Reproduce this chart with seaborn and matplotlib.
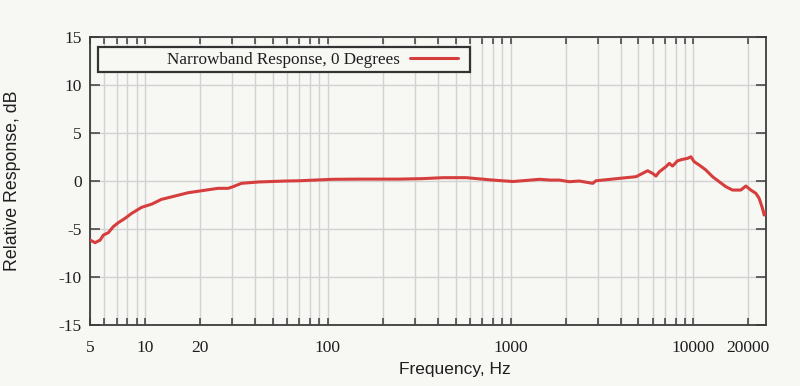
import numpy as np
import pandas as pd
import matplotlib
matplotlib.use("Agg")
import matplotlib.pyplot as plt
import seaborn as sns
from matplotlib.patches import Rectangle
from matplotlib.ticker import FixedLocator, NullFormatter

# values
freq_hz = [5, 5.33, 5.68, 5.92, 6.3, 6.7, 7.14, 7.77, 8.45, 9.58, 10.9, 12.3, 14.6,
           17.2, 20.4, 25.1, 28.5, 30.3, 33.7, 41.6, 58.2, 70, 106, 150, 247, 330,
           427, 572, 700, 800, 1030, 1200, 1440, 1650, 1850, 2100, 2380, 2815, 2935,
           3475, 4290, 4860, 5280, 5630, 5990, 6250, 6520, 7080, 7390, 7700, 8200,
           8740, 9300, 9700, 10120, 10770, 11720, 12750, 13860, 15080, 16400, 18200,
           19400, 20650, 22000, 22930, 23920, 24430, 24950]
response_db = [-6.15, -6.42, -6.15, -5.63, -5.38, -4.76, -4.34, -3.89, -3.37, -2.74,
               -2.4, -1.91, -1.56, -1.22, -1.01, -0.76, -0.76, -0.59, -0.24, -0.1, 0.0,
               0.03, 0.18, 0.2, 0.2, 0.25, 0.35, 0.35, 0.2, 0.1, -0.05, 0.05, 0.18, 0.1,
               0.1, -0.07, 0.0, -0.24, 0.03, 0.17, 0.35, 0.45, 0.8, 1.07, 0.8, 0.52,
               0.97, 1.49, 1.84, 1.56, 2.11, 2.26, 2.36, 2.53, 2.01, 1.67, 1.15, 0.45,
               -0.07, -0.59, -0.94, -0.94, -0.52, -0.94, -1.28, -1.8, -2.85, -3.54, -3.2]
labeled_ticks = [5, 10, 20, 100, 1000, 10000, 20000]
legend_label = "Narrowband Response, 0 Degrees"

df = pd.DataFrame({"freq": freq_hz, "db": response_db})

sns.set_theme(style="ticks")
plt.rcParams["font.family"] = ["Liberation Serif", "DejaVu Serif"]
plt.rcParams["axes.unicode_minus"] = False

paper = "#f7f7f4"
fig = plt.figure(figsize=(8, 3.86), dpi=100, facecolor=paper)
ax = fig.add_axes([0.1125, 0.158, 0.845, 0.746])
ax.set_facecolor(paper)

sns.lineplot(data=df, x="freq", y="db", ax=ax, color="#d63e3e", lw=2.2,
             label=legend_label, zorder=3)

ax.set_xscale("log")
ax.set_xlim(5, 25000)
ax.set_ylim(-15, 15)

all_ticks = [m * 10 ** e for e in range(0, 5) for m in range(1, 10)]
all_ticks = [t for t in all_ticks if 5 <= t <= 25000]
minor = [t for t in all_ticks if t not in labeled_ticks]
ax.xaxis.set_major_locator(FixedLocator(labeled_ticks))
ax.set_xticklabels([str(t) for t in labeled_ticks])
ax.xaxis.set_minor_locator(FixedLocator(minor))
ax.xaxis.set_minor_formatter(NullFormatter())
ax.set_yticks([-15, -10, -5, 0, 5, 10, 15])

ax.grid(True, which="both", axis="x", color="#d2d2d2", lw=1.0, zorder=0)
ax.grid(True, which="major", axis="y", color="#d2d2d2", lw=1.0, zorder=0)

edge = "#3c3c3c"
for s in ax.spines.values():
    s.set_color(edge)
    s.set_linewidth(1.3)
ax.tick_params(axis="x", which="both", direction="in", top=True, length=5,
               width=1.1, color=edge, labelsize=12.5, pad=11, labelcolor="#1e1e1e")
ax.tick_params(axis="y", which="major", direction="in", right=True, length=7,
               width=1.1, color=edge, labelsize=12.5, pad=6, labelcolor="#1e1e1e")

ax.set_xlabel("Frequency, Hz", family=["Liberation Sans", "DejaVu Sans"],
              fontsize=12.5, color="#1e1e1e")
ax.xaxis.set_label_coords(0.54, -0.13)
ax.set_ylabel("Relative Response, dB", family=["Liberation Sans", "DejaVu Sans"],
              fontsize=12.8, color="#1e1e1e")
ax.yaxis.set_label_coords(-0.102, 0.5)

# gnuplot-like key box
ax.add_patch(Rectangle((0.012, 0.878), 0.55, 0.087, transform=ax.transAxes,
                       facecolor=paper, edgecolor="#333333", lw=1.6, zorder=4))
leg = ax.legend(loc="center right", bbox_to_anchor=(0.554, 0.921), frameon=False,
                markerfirst=False, fontsize=12.3, handlelength=2.8,
                handletextpad=0.6, borderaxespad=0)
leg.set_zorder(5)
for t in leg.get_texts():
    t.set_color("#1e1e1e")

fig.savefig("out.png", dpi=100, facecolor=paper)
